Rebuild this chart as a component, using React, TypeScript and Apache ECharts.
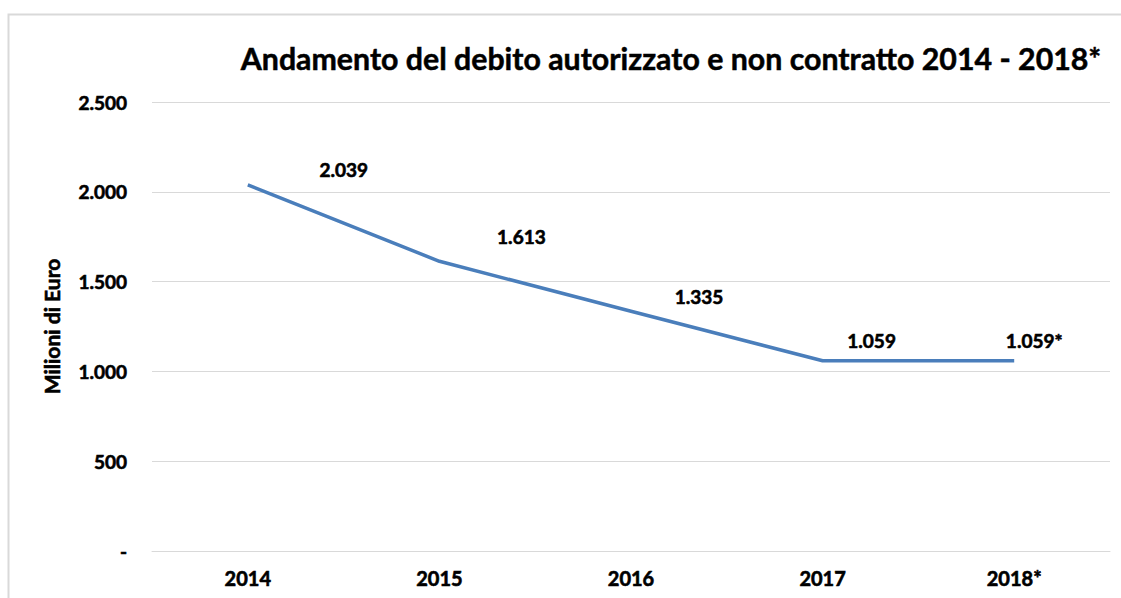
import React, { useEffect, useRef } from "react";
import * as echarts from "echarts";

const categories = ["2014", "2015", "2016", "2017", "2018*"];
const values = [2039, 1613, 1335, 1059, 1059];
const labelOffsets = [[96, -15], [82, -25], [68, -15], [49, -20], [20, -20]];
const yTicks = [0, 500, 1000, 1500, 2000, 2500];
const titleText = "Andamento del debito autorizzato e non contratto 2014 - 2018*";
const yAxisName = "Milioni di Euro";

const FONT = "Lato, 'Open Sans', sans-serif";
const HEAVY = { fontWeight: "bold", color: "#000000", textBorderColor: "#000000", textBorderWidth: 0.6 };

function fmt(v: number): string {
  if (v === 0) return "-";
  const s = Math.round(v).toString();
  return s.replace(/\B(?=(\d{3})+(?!\d))/g, ".");
}

export default function App() {
  const ref = useRef<HTMLDivElement>(null);
  useEffect(() => {
    if (!ref.current) return;
    const chart = echarts.init(ref.current, undefined, { renderer: "svg" });
    chart.setOption({
      animation: false,
      backgroundColor: "#ffffff",
      graphic: [
        {
          type: "rect",
          shape: { x: 8.5, y: 14.5, width: 1130, height: 600 },
          style: { fill: "none", stroke: "#d9d9d9", lineWidth: 2 },
          silent: true,
        },
      ],
      title: {
        text: titleText,
        left: 666,
        top: 38,
        textAlign: "center",
        textStyle: { fontFamily: FONT, fontSize: 30.3, ...HEAVY, textBorderWidth: 0.5 },
      },
      grid: { left: 152, right: 11, top: 102, bottom: 47, containLabel: false },
      xAxis: {
        type: "category",
        data: categories,
        boundaryGap: true,
        axisLine: { show: true, lineStyle: { color: "#d9d9d9", width: 1 } },
        axisTick: { show: false },
        axisLabel: {
          margin: 17,
          fontFamily: FONT,
          fontSize: 20,
          ...HEAVY,
        },
      },
      yAxis: {
        type: "value",
        min: 0,
        max: 2500,
        interval: 500,
        name: yAxisName,
        nameLocation: "middle",
        nameGap: 90,
        nameRotate: 90,
        nameTextStyle: { fontFamily: FONT, fontSize: 21, ...HEAVY },
        axisLine: { show: false },
        axisTick: { show: false },
        splitLine: { show: true, lineStyle: { color: "#d9d9d9", width: 1 } },
        axisLabel: {
          margin: 25,
          fontFamily: FONT,
          fontSize: 19,
          ...HEAVY,
          formatter: (v: number) => (yTicks.includes(v) ? fmt(v) : ""),
        },
      },
      series: [
        {
          type: "line",
          data: values.map((v, i) => ({
            value: v,
            label: { offset: labelOffsets[i] },
          })),
          symbol: "circle",
          symbolSize: 1,
          itemStyle: { color: "rgba(0,0,0,0)", borderWidth: 0 },
          lineStyle: { color: "#4a7ebb", width: 3.5 },
          label: {
            show: true,
            position: "inside",
            fontFamily: FONT,
            fontSize: 19,
            ...HEAVY,
            formatter: (p: any) =>
              fmt(p.value) + (categories[p.dataIndex].endsWith("*") ? "*" : ""),
          },
        },
      ],
    });
    return () => chart.dispose();
  }, []);
  return (
    <div
      ref={ref}
      style={{ position: "absolute", left: 0, top: 0, width: 1121, height: 598 }}
    />
  );
}
